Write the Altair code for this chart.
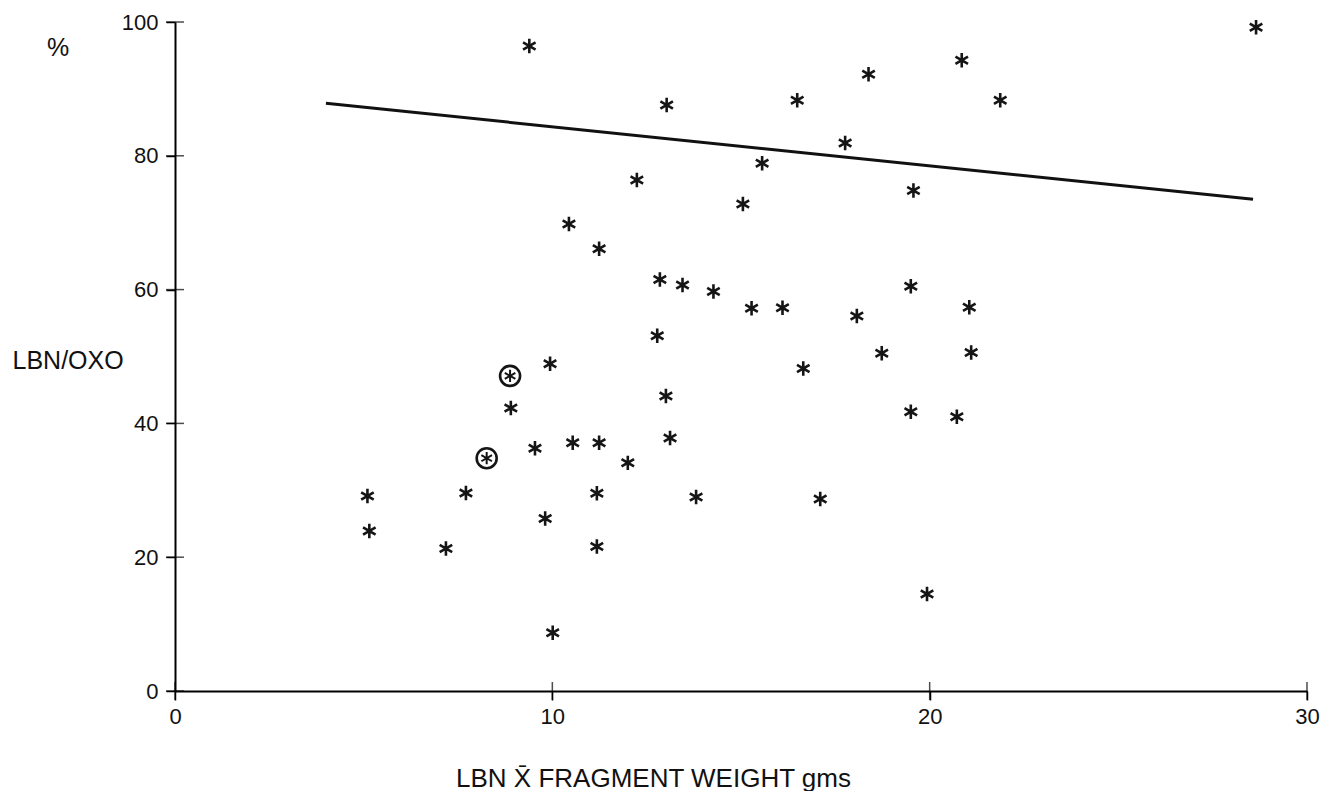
import altair as alt
import pandas as pd

# plain asterisk points (LBN mean fragment weight g, LBN/OXO %)
star_x = [9.39, 28.65, 20.85, 18.38, 16.49, 13.03, 21.87, 17.76, 15.56, 12.24,
          19.57, 15.05, 10.44, 11.24, 12.85, 13.45, 14.27, 19.5, 15.28, 16.1,
          21.05, 18.07, 12.78, 18.73, 21.1, 9.94, 16.65, 8.9, 13.01, 19.5,
          20.72, 13.12, 10.54, 11.24, 9.54, 12.0, 5.1, 7.71, 11.18, 13.81,
          17.1, 9.81, 5.15, 7.18, 11.18, 19.93, 10.01]
star_y = [96.4, 99.2, 94.3, 92.2, 88.3, 87.6, 88.3, 81.9, 78.9, 76.4,
          74.8, 72.8, 69.8, 66.1, 61.5, 60.7, 59.7, 60.5, 57.2, 57.3,
          57.35, 56.05, 53.1, 50.5, 50.6, 48.9, 48.2, 42.3, 44.1, 41.75,
          41.0, 37.8, 37.1, 37.1, 36.3, 34.1, 29.15, 29.6, 29.55, 29.0,
          28.7, 25.8, 23.9, 21.3, 21.6, 14.5, 8.7]

# circled asterisk points
circ_x = [8.88, 8.26]
circ_y = [47.1, 34.8]

# regression line end points
line_x = [4.0, 28.57]
line_y = [87.85, 73.5]

x_ticks = [0, 10, 20, 30]
y_ticks = [0, 20, 40, 60, 80, 100]

FONT = "Liberation Sans"
STAR = "M0,-1L0,1M-0.866,-0.5L0.866,0.5M-0.866,0.5L0.866,-0.5"

stars = pd.DataFrame({"x": star_x, "y": star_y})
circs = pd.DataFrame({"x": circ_x, "y": circ_y})
line = pd.DataFrame({"x": line_x, "y": line_y})
xt = pd.DataFrame({"t": x_ticks})
yt = pd.DataFrame({"t": y_ticks})

xscale = alt.Scale(domain=[0, 30], nice=False, zero=False)
yscale = alt.Scale(domain=[0, 100], nice=False, zero=False)

xaxis = alt.Axis(values=x_ticks, title="LBN X\u0304 FRAGMENT WEIGHT gms",
                 grid=False, domainColor="black", domainWidth=2,
                 ticks=True, tickSize=9, tickWidth=1.5, tickColor="black",
                 labelPadding=6, labelFlush=False, labelOverlap=False,
                 labelFont=FONT, labelFontSize=22, labelColor="#111",
                 titleFont=FONT, titleFontSize=26, titleFontWeight="normal",
                 titleColor="#111", titleX=478, titleY=95,
                 titleBaseline="alphabetic", titleAnchor="start", titleAlign="center")
yaxis = alt.Axis(values=y_ticks, title="LBN/OXO",
                 grid=False, domainColor="black", domainWidth=2,
                 ticks=True, tickSize=9, tickWidth=1.5, tickColor="black",
                 labelPadding=8, labelFlush=False, labelOverlap=False,
                 labelFont=FONT, labelFontSize=22, labelColor="#111",
                 titleFont=FONT, titleFontSize=25, titleFontWeight="normal",
                 titleColor="#111", titleAngle=0, titleX=-163, titleY=338,
                 titleAlign="left", titleBaseline="middle", titleAnchor="start")

base_x = alt.X("x:Q", scale=xscale, axis=xaxis)
base_y = alt.Y("y:Q", scale=yscale, axis=yaxis)

star_layer = alt.Chart(stars).mark_point(
    shape=STAR, size=210, filled=False, stroke="#151515", strokeWidth=2.6, opacity=1
).encode(x=base_x, y=base_y)

circ_ring = alt.Chart(circs).mark_point(
    shape="circle", size=400, filled=False, stroke="#151515", strokeWidth=2.6, opacity=1
).encode(x=alt.X("x:Q", scale=xscale), y=alt.Y("y:Q", scale=yscale))

circ_star = alt.Chart(circs).mark_point(
    shape=STAR, size=150, filled=False, stroke="#151515", strokeWidth=2.0, opacity=1
).encode(x=alt.X("x:Q", scale=xscale), y=alt.Y("y:Q", scale=yscale))

line_layer = alt.Chart(line).mark_line(color="#111", strokeWidth=3).encode(
    x=alt.X("x:Q", scale=xscale), y=alt.Y("y:Q", scale=yscale))

xtick_layer = alt.Chart(xt).mark_tick(
    orient="vertical", size=18, thickness=1.5, color="black"
).encode(x=alt.X("t:Q", scale=xscale), y=alt.YDatum(0, scale=yscale))

ytick_layer = alt.Chart(yt).mark_tick(
    orient="horizontal", size=18, thickness=1.5, color="black"
).encode(y=alt.Y("t:Q", scale=yscale), x=alt.XDatum(0, scale=xscale))

chart = alt.layer(
    star_layer, line_layer, circ_ring, circ_star, xtick_layer, ytick_layer
).properties(
    width=1132, height=669,
    background="white",
    title=alt.TitleParams("%", anchor="start", frame="group", orient="top",
                          offset=0, dx=-128, dy=62, baseline="middle",
                          font=FONT, fontSize=25, fontWeight="normal", color="#111"),
    autosize=alt.AutoSizeParams(type="none"),
    padding={"left": 167, "top": 14, "right": 20, "bottom": 100},
).configure_view(strokeWidth=0, stroke="transparent")

chart.save("out.html", embed_options={"renderer": "svg", "actions": False})
